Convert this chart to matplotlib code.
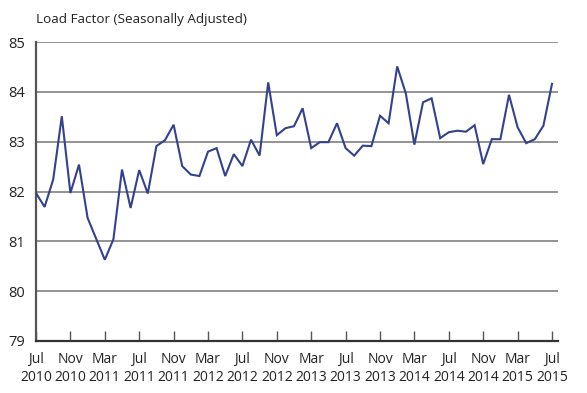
import matplotlib
matplotlib.use("Agg")
import matplotlib.pyplot as plt
import numpy as np

plt.rcParams['font.family'] = ['Open Sans', 'DejaVu Sans']

title = "Load Factor (Seasonally Adjusted)"
values = [81.97, 81.69, 82.24, 83.51, 81.97, 82.54, 81.47, 81.05, 80.63, 81.04,
          82.44, 81.67, 82.43, 81.96, 82.91, 83.03, 83.34, 82.51, 82.34, 82.31,
          82.80, 82.87, 82.31, 82.75, 82.51, 83.04, 82.72, 84.19, 83.13, 83.27,
          83.31, 83.67, 82.87, 82.99, 82.99, 83.37, 82.87, 82.72, 82.92, 82.91,
          83.52, 83.37, 84.51, 83.97, 82.94, 83.79, 83.87, 83.07, 83.19, 83.22,
          83.20, 83.33, 82.55, 83.05, 83.05, 83.94, 83.29, 82.97, 83.05, 83.32,
          84.16]
tick_labels = ["Jul\n2010", "Nov\n2010", "Mar\n2011", "Jul\n2011", "Nov\n2011",
               "Mar\n2012", "Jul\n2012", "Nov\n2012", "Mar\n2013", "Jul\n2013",
               "Nov\n2013", "Mar\n2014", "Jul\n2014", "Nov\n2014", "Mar\n2015",
               "Jul\n2015"]
y_ticks = [79, 80, 81, 82, 83, 84, 85]

W, H = 587, 393
fig = plt.figure(figsize=(W / 100, H / 100), dpi=100)
left, right, top, bottom = 36, 558, 42, 341
ax = fig.add_axes([left / W, 1 - bottom / H, (right - left) / W, (bottom - top) / H])

x = np.arange(len(values))
ax.plot(x, values, color='#34418f', lw=1.5, solid_joinstyle='miter', zorder=3)

ax.set_ylim(79, 85)
ax.set_xlim(0, 60 + 6 / 8.6)
ax.set_yticks(y_ticks)
ax.set_yticklabels([str(v) for v in y_ticks], fontsize=10.5, color='#222222')
ax.tick_params(axis='y', length=0, pad=8)
for v in y_ticks[1:]:
    ax.axhline(v, color='#8a8a8a', lw=1.3, zorder=1)

ax.set_xticks(np.arange(0, 61, 4))
ax.set_xticklabels(tick_labels, fontsize=10, color='#222222', linespacing=1.25)
ax.tick_params(axis='x', direction='in', length=7, width=1, color='#555555', pad=8)

for s in ['top', 'right']:
    ax.spines[s].set_visible(False)
ax.spines['left'].set_color('#555555')
ax.spines['left'].set_linewidth(1.6)
ax.spines['bottom'].set_color('#333333')
ax.spines['bottom'].set_linewidth(1.6)

fig.text(36 / W, 1 - 20 / H, title, fontsize=9.7, color='#222222', va='center', ha='left')

fig.savefig("out.png", dpi=100)
